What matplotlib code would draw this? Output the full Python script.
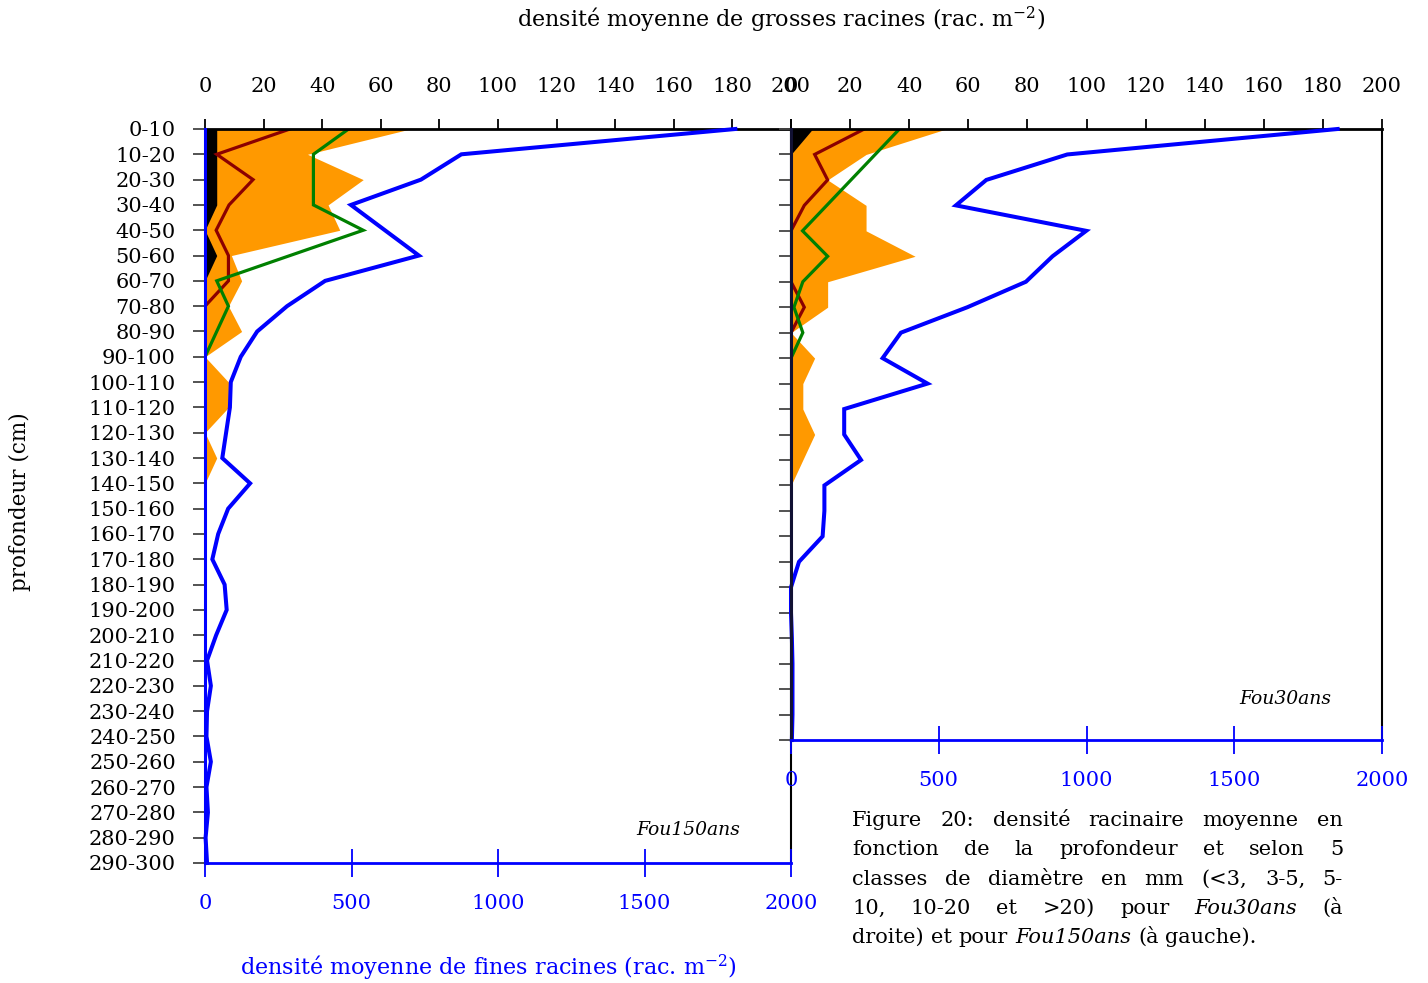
import numpy as np
import matplotlib.pyplot as plt

plt.rcParams['font.family'] = 'DejaVu Serif'
plt.rcParams['mathtext.fontset'] = 'dejavuserif'

# depth classes (cm)
depths = ['0-10', '10-20', '20-30', '30-40', '40-50', '50-60', '60-70', '70-80',
          '80-90', '90-100', '100-110', '110-120', '120-130', '130-140', '140-150',
          '150-160', '160-170', '170-180', '180-190', '190-200', '200-210', '210-220',
          '220-230', '230-240', '240-250', '250-260', '260-270', '270-280', '280-290',
          '290-300']

# Fou150ans (left panel), 30 depth classes
fine_150 = [1810, 875, 737, 498, 614, 730, 410, 280, 178, 122, 88, 85, 72, 59, 154,
            79, 45, 25, 67, 74, 38, 7, 20, 7, 5, 20, 5, 10, 2, 7]
d35_150 = [70, 35, 54, 42, 46, 9, 12.5, 8, 12.5, 0, 8, 8, 0, 4, 0,
           0, 0, 0, 0, 0, 0, 0, 0, 0, 0, 0, 0, 0, 0, 0]
d510_150 = [49, 37, 37, 37, 54, 29, 4, 8, 4, 0, 0, 0, 0, 0, 0,
            0, 0, 0, 0, 0, 0, 0, 0, 0, 0, 0, 0, 0, 0, 0]
d1020_150 = [29, 4, 16.4, 8.2, 3.8, 8, 8, 0, 0, 0, 0, 0, 0, 0, 0,
             0, 0, 0, 0, 0, 0, 0, 0, 0, 0, 0, 0, 0, 0, 0]
d20_150 = [4, 4, 4, 4, 0, 4, 0, 0, 0, 0, 0, 0, 0, 0, 0,
           0, 0, 0, 0, 0, 0, 0, 0, 0, 0, 0, 0, 0, 0, 0]

# Fou30ans (right panel), 25 depth classes
fine_30 = [1850, 935, 661, 558, 999, 885, 795, 597, 372, 310, 462, 180, 180, 237, 113,
           113, 107, 27, 0, 0, 3, 5, 5, 5, 3]
d35_30 = [52.5, 25.4, 12.4, 25.4, 25.4, 42, 12.4, 12.4, 0, 8, 4, 4, 8, 4, 0,
          0, 0, 0, 0, 0, 0, 0, 0, 0, 0]
d510_30 = [36.7, 28.5, 20.3, 12.1, 3.9, 12.4, 4, 1, 4, 0, 0, 0, 0, 0, 0,
           0, 0, 0, 0, 0, 0, 0, 0, 0, 0]
d1020_30 = [24.8, 8, 12.4, 4.5, 0, 0, 0, 4.5, 0, 0, 0, 0, 0, 0, 0,
            0, 0, 0, 0, 0, 0, 0, 0, 0, 0]
d20_30 = [7.3, 0, 0, 0, 0, 0, 0, 0, 0, 0, 0, 0, 0, 0, 0,
          0, 0, 0, 0, 0, 0, 0, 0, 0, 0]

W, H = 1428, 983
fig = plt.figure(figsize=(W / 100, H / 100), dpi=100)

BLUE = '#0000FF'
ORANGE = '#FF9900'
DRED = '#8B0000'
GREEN = '#008000'


def px_rect(x0, y0, x1, y1):
    return [x0 / W, 1 - y1 / H, (x1 - x0) / W, (y1 - y0) / H]


def panel(rect, fine, d35, d510, d1020, d20, show_labels, left_spine_color, tag, tag_xy):
    n = len(fine)
    y = np.arange(n)
    ax = fig.add_axes(rect)           # fine roots, bottom axis
    axc = ax.twiny()                  # coarse roots, top axis
    axc.set_zorder(ax.get_zorder() - 1)
    ax.patch.set_visible(False)

    # coarse roots
    axc.fill_betweenx(y, 0, d35, color=ORANGE, lw=0)
    axc.fill_betweenx(y, 0, d20, color='black', lw=0)
    axc.plot(d1020, y, color=DRED, lw=2.3, solid_joinstyle='miter')
    axc.plot(d510, y, color=GREEN, lw=2.3, solid_joinstyle='miter')
    axc.set_xlim(0, 200)
    axc.set_xticks(np.arange(0, 201, 20))
    axc.tick_params(axis='x', direction='out', length=7, width=1.3, colors='black',
                    labelsize=15, pad=17)

    # fine roots
    ax.plot(fine, y, color=BLUE, lw=2.9, solid_joinstyle='miter', clip_on=False)
    ax.set_xlim(0, 2000)
    ax.set_xticks(np.arange(0, 2001, 500))
    ax.tick_params(axis='x', direction='inout', length=20, width=1.3, colors=BLUE,
                   labelsize=15, pad=12)
    ax.set_ylim(n - 1, 0)
    ax.set_yticks(y)
    ax.set_yticklabels(depths[:n] if show_labels else [])
    ax.tick_params(axis='y', direction='out', length=9, width=1.3, colors='#444444',
                   labelcolor='black', labelsize=15, pad=12)

    for s in ['top', 'right']:
        ax.spines[s].set_visible(False)
    for s in ['left', 'bottom']:
        axc.spines[s].set_visible(False)
    ax.spines['bottom'].set_color(BLUE)
    ax.spines['bottom'].set_linewidth(2)
    ax.spines['left'].set_color(left_spine_color)
    ax.spines['left'].set_linewidth(2.2)
    axc.spines['top'].set_linewidth(2)
    axc.spines['right'].set_linewidth(1.5)
    fig.text(tag_xy[0] / W, 1 - tag_xy[1] / H, tag, style='italic', fontsize=13.5,
             ha='center', va='center')
    return ax, axc


panel(px_rect(205, 129, 791, 863), fine_150, d35_150, d510_150, d1020_150, d20_150,
      True, BLUE, 'Fou150ans', (688, 830))
panel(px_rect(791, 129, 1382, 740), fine_30, d35_30, d510_30, d1020_30, d20_30,
      False, '#111133', 'Fou30ans', (1285, 699))

fig.text(781 / W, 1 - 20 / H, 'densité moyenne de grosses racines (rac. m$^{-2}$)',
         fontsize=16, ha='center', va='center')
fig.text(488 / W, 1 - 968 / H, 'densité moyenne de fines racines (rac. m$^{-2}$)',
         fontsize=16, ha='center', va='center', color=BLUE)
fig.text(20 / W, 1 - 502 / H, 'profondeur (cm)', fontsize=15.5, rotation=90,
         ha='center', va='center')

# justified caption
caption = [
    [('Figure', False), ('20:', False), ('densité', False), ('racinaire', False),
     ('moyenne', False), ('en', False)],
    [('fonction', False), ('de', False), ('la', False), ('profondeur', False),
     ('et', False), ('selon', False), ('5', False)],
    [('classes', False), ('de', False), ('diamètre', False), ('en', False),
     ('mm', False), ('(<3,', False), ('3-5,', False), ('5-', False)],
    [('10,', False), ('10-20', False), ('et', False), ('>20)', False), ('pour', False),
     ('Fou30ans', True), ('(à', False)],
    [('droite)', False), ('et', False), ('pour', False), ('Fou150ans', True),
     ('(à', False), ('gauche).', False)],
]
renderer = fig.canvas.get_renderer()
cx0, cx1 = 852, 1343
for i, line in enumerate(caption):
    yb = 1 - (820 + i * 29.3 + 6) / H
    texts = [fig.text(0, yb, w, fontsize=15, style='italic' if it else 'normal',
                      va='baseline', ha='left') for w, it in line]
    widths = [t.get_window_extent(renderer).width for t in texts]
    if i < len(caption) - 1:
        gap = (cx1 - cx0 - sum(widths)) / (len(texts) - 1)
    else:
        gap = 7
    x = cx0
    for t, w in zip(texts, widths):
        t.set_x(x / W)
        x += w + gap

fig.savefig('out.png', dpi=100)
